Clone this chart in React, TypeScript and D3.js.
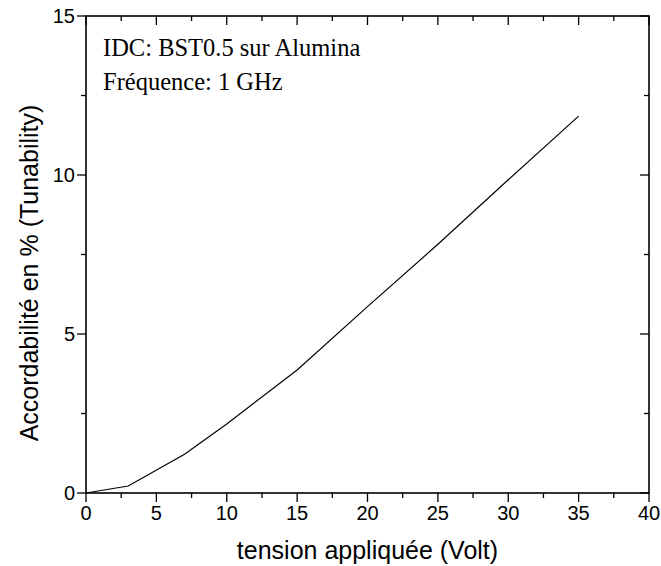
import React from "react";
import * as d3 from "d3";

const voltage = [0, 3, 7, 10, 15, 20, 25, 30, 35];
const tunability = [0, 0.22, 1.22, 2.17, 3.87, 5.86, 7.82, 9.85, 11.85];
const xTicks = [0, 5, 10, 15, 20, 25, 30, 35, 40];
const yTicks = [0, 5, 10, 15];
const xMinor = [2.5, 7.5, 12.5, 17.5, 22.5, 27.5, 32.5, 37.5];
const yMinor = [2.5, 7.5, 12.5];
const annotations = ["IDC: BST0.5 sur Alumina", "Fréquence: 1 GHz"];
const xTitle = "tension appliquée (Volt)";
const yTitle = "Accordabilité en % (Tunability)";

const W = 661;
const H = 566;
const L = 86;
const R = 649;
const T = 16;
const B = 493;

export default function App() {
  const x = d3.scaleLinear().domain([0, 40]).range([L, R]);
  const y = d3.scaleLinear().domain([0, 15]).range([B, T]);
  const line = d3
    .line<number>()
    .x((_, i) => x(voltage[i]))
    .y((d) => y(d));
  const sans = "Arial, 'Liberation Sans', sans-serif";
  const serif = "'Times New Roman', 'Liberation Serif', serif";
  const maj = 9;
  const mnr = 5;
  return (
    <svg
      width={W}
      height={H}
      style={{ position: "absolute", left: 0, top: 0, background: "#fff" }}
    >
      <rect x={0} y={0} width={W} height={H} fill="#fff" />
      <g stroke="#000" strokeWidth={1.3}>
        {xTicks.map((t) => (
          <g key={"xt" + t}>
            <line x1={x(t)} x2={x(t)} y1={B} y2={B + maj} />
            <line x1={x(t)} x2={x(t)} y1={T} y2={T + maj} />
          </g>
        ))}
        {xMinor.map((t) => (
          <g key={"xm" + t}>
            <line x1={x(t)} x2={x(t)} y1={B} y2={B + mnr} />
            <line x1={x(t)} x2={x(t)} y1={T} y2={T + mnr} />
          </g>
        ))}
        {yTicks.map((t) => (
          <g key={"yt" + t}>
            <line x1={L - maj} x2={L} y1={y(t)} y2={y(t)} />
            <line x1={R - maj} x2={R} y1={y(t)} y2={y(t)} />
          </g>
        ))}
        {yMinor.map((t) => (
          <g key={"ym" + t}>
            <line x1={L - mnr} x2={L} y1={y(t)} y2={y(t)} />
            <line x1={R - mnr} x2={R} y1={y(t)} y2={y(t)} />
          </g>
        ))}
      </g>
      <rect
        x={L}
        y={T}
        width={R - L}
        height={B - T}
        fill="none"
        stroke="#000"
        strokeWidth={1.6}
      />
      <path d={line(tunability) || ""} fill="none" stroke="#000" strokeWidth={1.2} />
      <g fontFamily={sans} fontSize={20} fill="#000">
        {xTicks.map((t) => (
          <text key={"xl" + t} x={x(t)} y={B + 27} textAnchor="middle">
            {t}
          </text>
        ))}
        {yTicks.map((t) => (
          <text key={"yl" + t} x={L - 11} y={y(t) + 7} textAnchor="end">
            {t}
          </text>
        ))}
      </g>
      <text x={(L + R) / 2} y={559} textAnchor="middle" fontFamily={sans} fontSize={25}>
        {xTitle}
      </text>
      <text
        transform={`translate(38, 273) rotate(-90)`}
        textAnchor="middle"
        fontFamily={sans}
        fontSize={25}
      >
        {yTitle}
      </text>
      <g fontFamily={serif} fontSize={24.5}>
        {annotations.map((a, i) => (
          <text key={a} x={103} y={56 + i * 34}>
            {a}
          </text>
        ))}
      </g>
    </svg>
  );
}
